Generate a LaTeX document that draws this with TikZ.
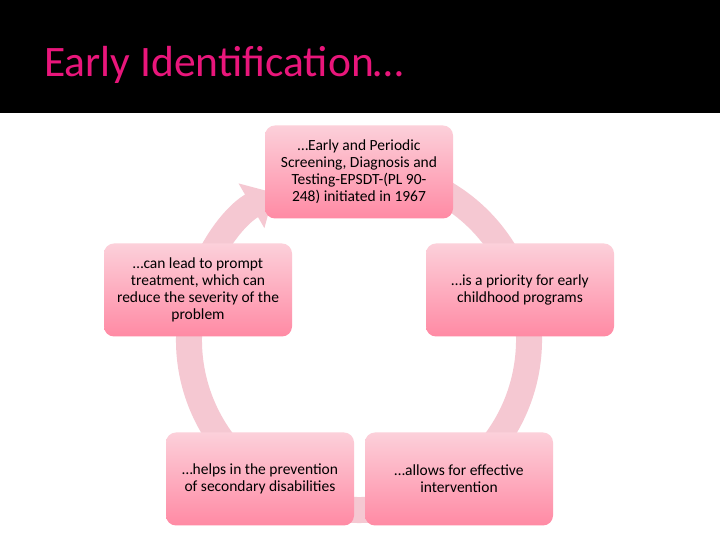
\documentclass[tikz,border=0pt]{standalone}
\usepackage{fontspec}
\setmainfont{Carlito}
\usetikzlibrary{arrows.meta,shadings}
\definecolor{titlepink}{RGB}{233,22,123}
\definecolor{ringpink}{RGB}{245,200,210}
\definecolor{boxtop}{RGB}{252,208,218}
\definecolor{boxbot}{RGB}{255,138,164}
\tikzset{
  cyclebox/.style={rectangle, rounded corners=10pt, minimum width=188pt, minimum height=93pt,
    top color=boxtop, bottom color=boxbot, draw=none, align=center,
    font=\fontsize{15.5}{17}\selectfont, text=black, inner sep=0pt},
  ring/.style={draw=ringpink, line width=26pt}
}
\begin{document}
\begin{tikzpicture}[x=1pt,y=1pt]
\useasboundingbox (0,0) rectangle (720,540);
\fill[white] (0,0) rectangle (720,540);
\fill[black] (0,427) rectangle (720,540);
\node[anchor=base west, inner sep=0pt, text=titlepink, font=\fontsize{43.5}{46}\selectfont] (title) at (44,463) {Early Identification…};
% ring
\coordinate (c) at (359,200);
\draw[ring, -{Triangle[width=50pt,length=26pt]}] ([shift={(80:170)}]c) arc[start angle=80, end angle=-240, radius=170];
% boxes
\node[cyclebox] (top) at (359,368) {…Early and Periodic\\Screening, Diagnosis and\\Testing-EPSDT-(PL 90-\\248) initiated in 1967};
\node[cyclebox] (right) at (520,250) {…is a priority for early\\childhood programs};
\node[cyclebox] (br) at (459,61) {…allows for effective\\intervention};
\node[cyclebox] (bl) at (260,61) {…helps in the prevention\\of secondary disabilities};
\node[cyclebox] (left) at (198,250) {…can lead to prompt\\treatment, which can\\reduce the severity of the\\problem};
\end{tikzpicture}
\end{document}
